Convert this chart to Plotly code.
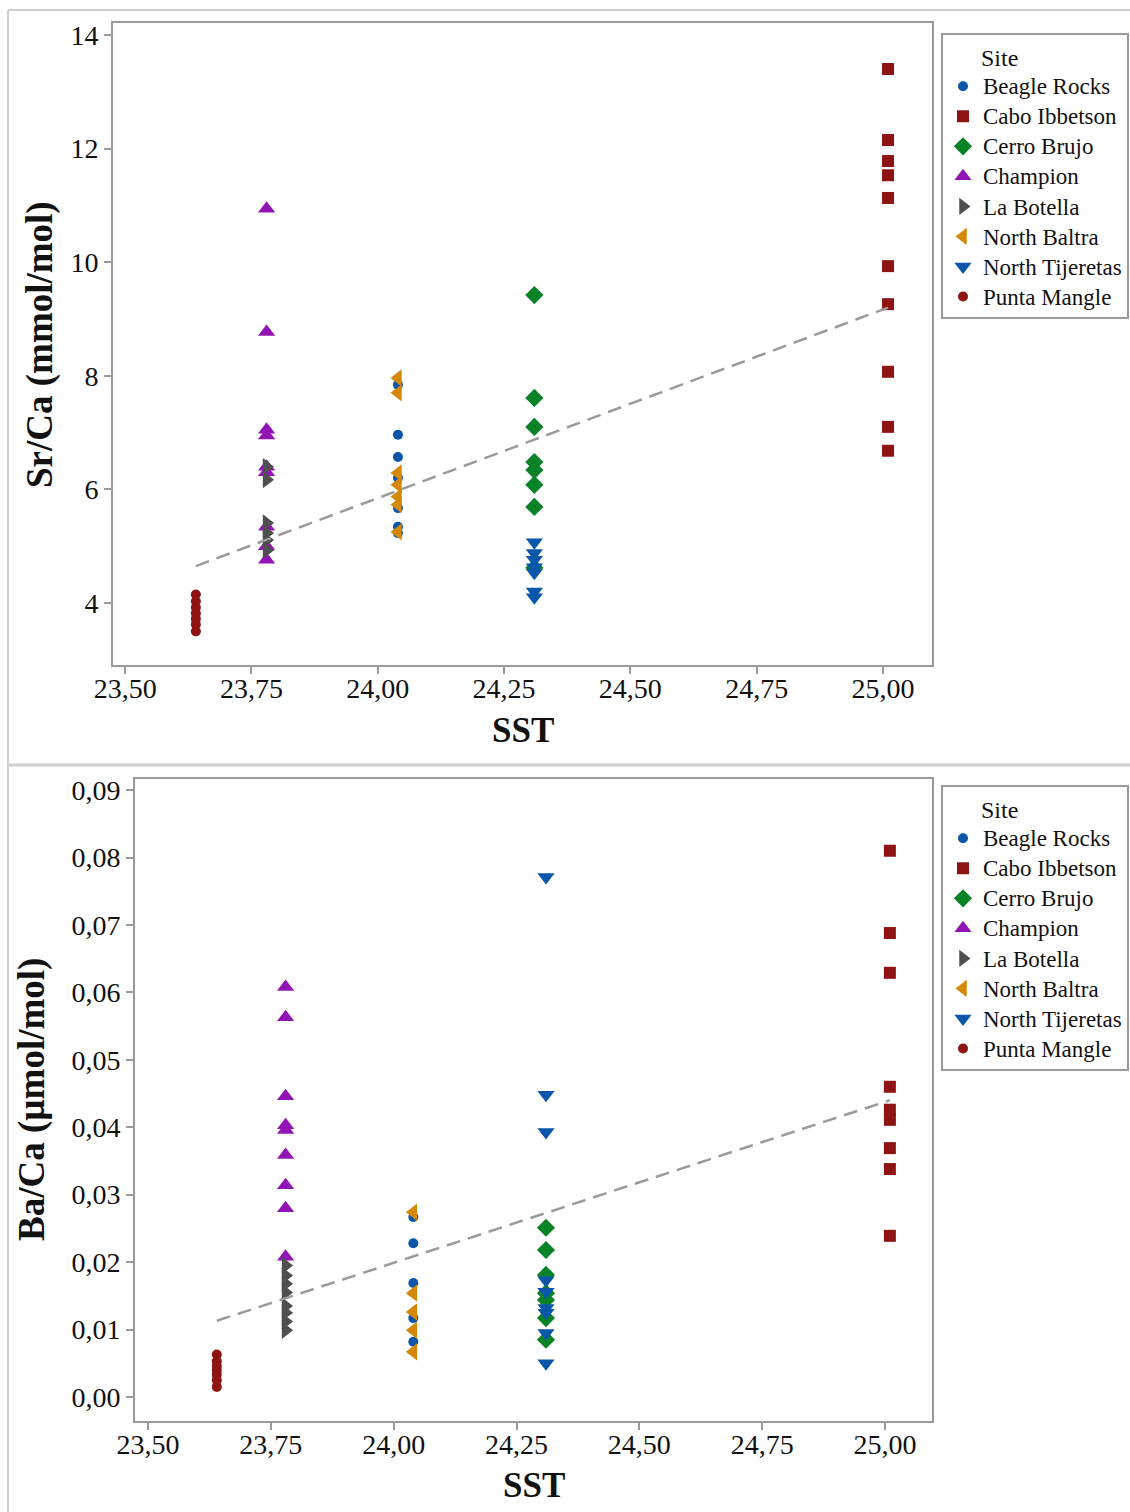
import numpy as np
import plotly.graph_objects as go

# ---------------- DATA ----------------
sites = ["Beagle Rocks", "Cabo Ibbetson", "Cerro Brujo", "Champion",
         "La Botella", "North Baltra", "North Tijeretas", "Punta Mangle"]
site_sst = {"Beagle Rocks": 24.04, "Cabo Ibbetson": 25.01, "Cerro Brujo": 24.31,
            "Champion": 23.78, "La Botella": 23.78, "North Baltra": 24.04,
            "North Tijeretas": 24.31, "Punta Mangle": 23.64}

sr_beagle = [7.84, 6.96, 6.57, 6.20, 5.67, 5.34, 5.23]
sr_cabo = [13.40, 12.15, 11.78, 11.53, 11.13, 9.93, 9.26, 8.07, 7.10, 6.68]
sr_cerro = [9.42, 7.61, 7.10, 6.48, 6.34, 6.08, 5.69, 4.62]
sr_champion = [10.94, 8.77, 7.05, 6.95, 6.40, 6.30, 5.34, 5.00, 4.76]
sr_botella = [6.40, 6.17, 5.41, 5.23, 5.11, 4.93]
sr_baltra = [7.96, 7.70, 6.29, 6.08, 5.87, 5.73, 5.25]
sr_tijeretas = [5.07, 4.88, 4.76, 4.63, 4.53, 4.20, 4.10]
sr_mangle = [4.15, 4.03, 3.92, 3.82, 3.72, 3.62, 3.50]

ba_beagle = [0.0267, 0.0228, 0.0169, 0.0117, 0.0082]
ba_cabo = [0.0810, 0.0688, 0.0629, 0.0460, 0.0426, 0.0411, 0.0369, 0.0338, 0.0239]
ba_cerro = [0.0251, 0.0218, 0.0181, 0.0154, 0.0144, 0.0117, 0.0085]
ba_champion = [0.0608, 0.0563, 0.0446, 0.0403, 0.0396, 0.0359, 0.0314, 0.0280, 0.0208]
ba_botella = [0.0195, 0.0180, 0.0168, 0.0155, 0.0135, 0.0125, 0.0112, 0.0099]
ba_baltra = [0.0274, 0.0154, 0.0126, 0.0099, 0.0067]
ba_tijeretas = [0.0771, 0.0448, 0.0393, 0.0173, 0.0156, 0.0132, 0.0125, 0.0095, 0.0050]
ba_mangle = [0.0063, 0.0053, 0.0046, 0.0040, 0.0033, 0.0025, 0.0015]

# fitted trend lines (end points)
fit_sst = [23.64, 25.01]
fit_sr = [4.65, 9.20]
fit_ba = [0.0113, 0.0440]

x_ticks = [23.50, 23.75, 24.00, 24.25, 24.50, 24.75, 25.00]
sr_ticks = [4, 6, 8, 10, 12, 14]
ba_ticks = [0.00, 0.01, 0.02, 0.03, 0.04, 0.05, 0.06, 0.07, 0.08, 0.09]

sr_data = dict(zip(sites, [sr_beagle, sr_cabo, sr_cerro, sr_champion,
                           sr_botella, sr_baltra, sr_tijeretas, sr_mangle]))
ba_data = dict(zip(sites, [ba_beagle, ba_cabo, ba_cerro, ba_champion,
                           ba_botella, ba_baltra, ba_tijeretas, ba_mangle]))

# ---------------- STYLE ----------------
styles = {
    "Beagle Rocks": ("circle", "#0A56A8", 10),
    "Cabo Ibbetson": ("square", "#8E1414", 12),
    "Cerro Brujo": ("diamond", "#0A8228", 14),
    "Champion": ("triangle-up", "#9214B4", 15),
    "La Botella": ("triangle-right", "#4F4F4F", 15),
    "North Baltra": ("triangle-left", "#D48806", 15),
    "North Tijeretas": ("triangle-down", "#0A56A8", 15),
    "Punta Mangle": ("circle", "#8E1414", 10),
}
FONT = "Liberation Serif"
W, H = 1130, 1512

fig = go.Figure()


def add_panel(data, fit_y, xa, ya, legend):
    for s in sites:
        ys = data[s]
        xs = [site_sst[s]] * len(ys)
        sym, col, sz = styles[s]
        fig.add_trace(go.Scatter(
            x=xs, y=ys, mode="markers", legend=legend,
            name=f'<span style="font-size:23px">{s}</span>',
            xaxis=xa, yaxis=ya,
            marker=dict(symbol=sym, color=col, size=sz, line=dict(width=0)),
        ))
    fig.add_trace(go.Scatter(
        x=fit_sst, y=fit_y, mode="lines", showlegend=False,
        xaxis=xa, yaxis=ya, hoverinfo="skip",
        line=dict(color="#9A9A9A", width=2.5, dash="14px,8px"),
    ))


add_panel(sr_data, fit_sr, "x", "y", "legend")
add_panel(ba_data, fit_ba, "x2", "y2", "legend2")

axis_common = dict(
    showgrid=False, zeroline=False, showline=True, linecolor="#9A9A9A",
    linewidth=2, mirror=True, ticks="outside", ticklen=7, tickwidth=1.5,
    tickcolor="#9A9A9A", tickfont=dict(family=FONT, size=28, color="#111"),
)


def px_x(p):
    return p / W


def px_y(p):
    return 1 - p / H


legend_common = dict(
    xanchor="left", yanchor="top",
    bordercolor="#9A9A9A", borderwidth=2, bgcolor="white",
    font=dict(family=FONT, size=20.8, color="#111"),
    title=dict(text="      Site", font=dict(family=FONT, size=24)),
    tracegroupgap=0,
)

fig.update_layout(
    width=W, height=H, margin=dict(l=0, r=0, t=0, b=0, autoexpand=False),
    paper_bgcolor="white", plot_bgcolor="white", separators=",.",
    font=dict(family=FONT, color="#111"),
    xaxis=dict(domain=[px_x(113), px_x(932)], range=[23.476, 25.097],
               tickvals=x_ticks, tickformat=".2f", anchor="y",
               ticklabelstandoff=-10, **axis_common),
    yaxis=dict(domain=[px_y(665), px_y(23)], range=[2.908, 14.21],
               tickvals=sr_ticks, tickformat="d", anchor="x", **axis_common),
    xaxis2=dict(domain=[px_x(135), px_x(932)], range=[23.4735, 25.0957],
                tickvals=x_ticks, tickformat=".2f", anchor="y2",
                ticklabelstandoff=-10, **axis_common),
    yaxis2=dict(domain=[px_y(1421), px_y(779)], range=[-0.00356, 0.09164],
                tickvals=ba_ticks, tickformat=".2f", anchor="x2", **axis_common),
    legend=dict(x=px_x(941), y=px_y(33), **legend_common),
    legend2=dict(x=px_x(941), y=px_y(785), **legend_common),
    annotations=[
        dict(text="<b>SST</b>", x=px_x(523), y=px_y(730), xref="paper", yref="paper",
             xanchor="center", yanchor="middle",
             showarrow=False, font=dict(family=FONT, size=35, color="#111")),
        dict(text="<b>Sr/Ca (mmol/mol)</b>", x=px_x(40), y=px_y(345), xref="paper",
             yref="paper", showarrow=False, textangle=-90,
             xanchor="center", yanchor="middle",
             font=dict(family=FONT, size=37, color="#111")),
        dict(text="<b>SST</b>", x=px_x(534), y=px_y(1485), xref="paper", yref="paper",
             xanchor="center", yanchor="middle",
             showarrow=False, font=dict(family=FONT, size=35, color="#111")),
        dict(text="<b>Ba/Ca (µmol/mol)</b>", x=px_x(32), y=px_y(1100), xref="paper",
             yref="paper", showarrow=False, textangle=-90,
             xanchor="center", yanchor="middle",
             font=dict(family=FONT, size=37, color="#111")),
    ],
    shapes=[
        dict(type="line", xref="paper", yref="paper", x0=px_x(8), x1=1,
             y0=px_y(10), y1=px_y(10), line=dict(color="#D0D0D0", width=2)),
        dict(type="line", xref="paper", yref="paper", x0=px_x(8), x1=1,
             y0=px_y(765), y1=px_y(765), line=dict(color="#D0D0D0", width=3)),
        dict(type="line", xref="paper", yref="paper", x0=px_x(8), x1=px_x(8),
             y0=px_y(10), y1=0, line=dict(color="#D0D0D0", width=2)),
    ],
)

fig.write_html("out.html")
